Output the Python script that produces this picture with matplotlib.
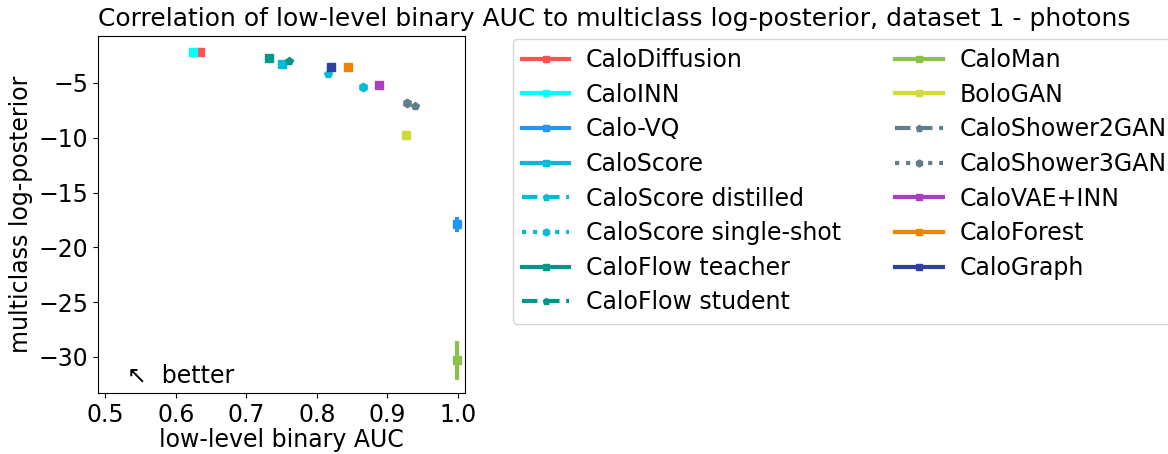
import matplotlib
matplotlib.use("Agg")
import matplotlib.pyplot as plt
from matplotlib.lines import Line2D

plt.rcParams['font.size'] = 17

models = ["CaloDiffusion", "CaloINN", "Calo-VQ", "CaloScore", "CaloScore distilled",
          "CaloScore single-shot", "CaloFlow teacher", "CaloFlow student", "CaloMan",
          "BoloGAN", "CaloShower2GAN", "CaloShower3GAN", "CaloVAE+INN", "CaloForest",
          "CaloGraph"]
auc = [0.634, 0.625, 0.9985, 0.751, 0.816, 0.8655, 0.733, 0.761, 0.999,
       0.926, 0.939, 0.928, 0.8885, 0.845, 0.820]
auc_err = [0.002, 0.003, 0.001, 0.002, 0.002, 0.002, 0.003, 0.002, 0.001,
           0.001, 0.003, 0.003, 0.002, 0.001, 0.001]
logpost = [-2.15, -2.15, -17.9, -3.27, -4.2, -5.4, -2.75, -2.95, -30.3,
           -9.75, -7.1, -6.8, -5.2, -3.57, -3.55]
logpost_err = [0.1, 0.1, 0.7, 0.15, 0.15, 0.15, 0.1, 0.1, 1.8,
               0.4, 0.1, 0.1, 0.1, 0.05, 0.05]
colors = ["#ff5252", "#00ffff", "#2196f3", "#00bcd4", "#00bcd4", "#00bcd4",
          "#009688", "#009688", "#8bc34a", "#cddc39", "#607d8b", "#607d8b",
          "#ab3fc2", "#f08400", "#303f9f"]
markers = ["s", "s", "s", "s", "p", "h", "s", "p", "s", "s", "p", "h", "s", "s", "s"]
styles = ["-", "-", "-", "-", "--", ":", "-", "--", "-", "-", "--", ":", "-", "-", "-"]

fig = plt.figure(figsize=(11.68, 4.54), dpi=100)
ax = fig.add_axes([0.084, 0.134, 0.314, 0.787])

handles = []
for i in range(len(models)):
    ax.errorbar(auc[i], logpost[i], xerr=auc_err[i], yerr=logpost_err[i],
                marker=markers[i], color=colors[i], markersize=6,
                elinewidth=3, linestyle="none")
    handles.append(Line2D([0], [0], color=colors[i], linestyle=styles[i],
                          linewidth=3, marker=markers[i], markersize=5,
                          label=models[i]))

ax.set_xlim(0.49, 1.01)
ax.set_ylim(-33.3, -0.7)
ax.set_xticks([0.5, 0.6, 0.7, 0.8, 0.9, 1.0])
ax.set_yticks([-5, -10, -15, -20, -25, -30])
ax.set_xlabel("low-level binary AUC", labelpad=1)
ax.set_ylabel("multiclass log-posterior")
fig.text(0.084, 0.943, "Correlation of low-level binary AUC to multiclass log-posterior, dataset 1 - photons",
         fontsize=18, va="baseline", ha="left")
ax.text(0.08, 0.047, "↖  better", transform=ax.transAxes, va="center", ha="left")

fig.legend(handles=handles, ncol=2, loc="upper left", bbox_to_anchor=(0.439, 0.915),
           frameon=True, handlelength=2.0, handletextpad=0.7, columnspacing=2.3,
           labelspacing=0.45, borderaxespad=0.0)

plt.savefig("out.png", dpi=100)
